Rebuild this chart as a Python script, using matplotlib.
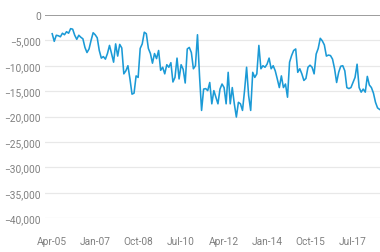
import matplotlib.pyplot as plt
import numpy as np
from matplotlib.ticker import FuncFormatter

plt.rcParams['font.family'] = ['Roboto', 'DejaVu Sans']

# monthly values starting Apr-05
values = [
    -3700, -5200, -4000, -4100, -4300, -3600, -3900, -3300, -3600, -2700,
    -2800, -4000, -4800, -4000, -4400, -4700, -6400, -7400, -6700, -5000,
    -3500, -3900, -4500, -7000, -8500, -8200, -8700, -7600, -6000, -7600,
    -9300, -5700, -8100, -5800, -6500, -11600, -11000, -10000, -12600, -15600,
    -15400, -12000, -12300, -6600, -5700, -3400, -3700, -6600, -7600, -9500,
    -7600, -8600, -7000, -10900, -10300, -11600, -9800, -10300, -9400, -13200,
    -12300, -8500, -12600, -9800, -10700, -13400, -6700, -6400, -7400, -10600,
    -10000, -3900, -12000, -18800, -14600, -14500, -14900, -13300, -17500, -14900,
    -16200, -17500, -14600, -13600, -14300, -17500, -11300, -17500, -14300, -17500,
    -20100, -17200, -17500, -18800, -14900, -10300, -15900, -18800, -11300, -12300,
    -11600, -6000, -10600, -10000, -10300, -9700, -8500, -10600, -10000, -11000,
    -12600, -14300, -12000, -14300, -13600, -16200, -9300, -8000, -7000, -6700,
    -11300, -10600, -11600, -12900, -12500, -10300, -9900, -10300, -11600, -7700,
    -6600, -4600, -5100, -5900, -8100, -7900, -8000, -8700, -10600, -13300,
    -11300, -10100, -10000, -11000, -14300, -14500, -14300, -13300, -12300, -9700,
    -14300, -15200, -14600, -15200, -12100, -13800, -14300, -15400, -17200, -18300,
    -18600,
]
tick_months = [0, 21, 42, 63, 84, 105, 126, 147]
tick_labels = ['Apr-05', 'Jan-07', 'Oct-08', 'Jul-10', 'Apr-12', 'Jan-14', 'Oct-15', 'Jul-17']
y_ticks = [0, -5000, -10000, -15000, -20000, -25000, -30000, -35000, -40000]

x = np.arange(len(values))

fig = plt.figure(figsize=(3.8, 2.53), dpi=100)
ax = fig.add_axes([0.118, 0.134, 0.882, 0.803])

for yv in y_ticks[1:]:
    ax.axhline(yv, color='#e8e8e8', lw=0.9, zorder=0)
ax.axhline(0, color='#8c8c8c', lw=1.2, zorder=1)

ax.plot(x, values, color='#1b9ad6', lw=1.15, zorder=2)

ax.set_ylim(-40000, 0)
ax.set_xlim(-3.6, 160.2)
ax.set_yticks(y_ticks)
ax.yaxis.set_major_formatter(FuncFormatter(lambda v, p: f'{v:,.0f}'.replace('-', '\u2212')))
ax.set_xticks(tick_months)
ax.set_xticklabels(tick_labels)

for s in ax.spines.values():
    s.set_visible(False)
ax.tick_params(axis='both', length=0, labelsize=7.3, labelcolor='#808080')
ax.tick_params(axis='y', pad=3)
ax.tick_params(axis='x', pad=13)

fig.savefig('out.png', dpi=100)
